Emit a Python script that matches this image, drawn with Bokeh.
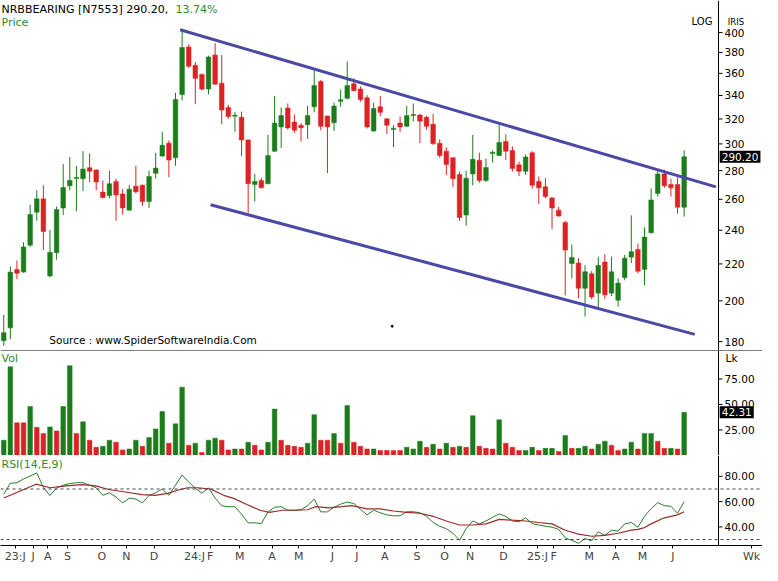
from bokeh.plotting import figure
from bokeh.layouts import column
from bokeh.models import Range1d, FixedTicker, Span, Label, ColumnDataSource
from bokeh.embed import file_html
from bokeh.resources import INLINE

# ---------------- data (weekly candles) ----------------
open_ = [180.4, 186.5, 216.9, 215.4, 230.9, 251.5, 260.3, 213.3, 226.5, 254.2,
         269.2, 274.4, 274.2, 282.1, 280.4, 264.9, 262.5, 272.3, 263.6, 252.8,
         269.0, 269.6, 258.5, 278.1, 290.7, 300.6, 289.5, 340.9, 385.5, 367.6,
         359.0, 345.7, 377.5, 351.0, 329.6, 322.3, 321.4, 303.1, 270.1, 273.0,
         270.7, 294.4, 313.5, 329.1, 317.4, 314.8, 315.3, 330.2, 352.5, 322.5,
         316.9, 335.0, 337.5, 350.4, 345.7, 338.0, 310.1, 330.2, 320.1, 311.4,
         316.6, 314.0, 322.8, 323.3, 321.4, 315.6, 300.6, 294.4, 289.5, 277.2,
         249.6, 277.6, 287.6, 273.0, 292.7, 291.2, 301.9, 294.9, 284.2, 279.5,
         293.2, 272.3, 268.5, 260.9, 252.8, 244.9, 220.2, 220.5, 206.6, 214.5,
         204.0, 221.1, 204.0, 200.3, 212.4, 223.9, 228.4, 216.9, 238.4, 264.0,
         277.6, 270.1, 270.1, 254.7]
high = [192.9, 218.7, 222.0, 232.8, 256.4, 266.2, 269.6, 240.2, 255.3, 284.7,
        290.0, 283.5, 294.4, 292.7, 281.1, 273.0, 280.0, 274.2, 266.9, 269.6,
        283.5, 270.1, 280.0, 293.2, 309.6, 302.6, 342.3, 403.0, 388.1, 370.6,
        359.9, 376.9, 389.1, 377.5, 331.9, 325.5, 326.1, 303.5, 277.6, 274.8,
        307.0, 339.5, 329.6, 333.0, 323.6, 316.6, 331.0, 363.0, 354.0, 322.6,
        333.8, 345.2, 371.2, 355.4, 348.1, 340.3, 333.8, 339.5, 320.5, 314.8,
        322.0, 331.0, 333.0, 324.2, 322.5, 324.2, 303.6, 297.4, 289.7, 279.3,
        280.0, 307.0, 293.2, 288.8, 294.9, 315.6, 307.5, 298.1, 286.6, 291.9,
        294.4, 275.8, 274.6, 261.6, 254.9, 245.9, 231.3, 223.3, 219.2, 215.9,
        224.2, 225.7, 224.2, 212.0, 225.2, 249.4, 231.9, 241.8, 267.4, 280.0,
        280.7, 274.2, 275.3, 295.1]
low = [178.1, 181.1, 211.5, 215.0, 229.9, 245.9, 228.0, 212.5, 222.4, 249.6,
       266.2, 252.1, 265.6, 271.9, 266.2, 260.7, 260.7, 245.9, 250.0, 252.5,
       264.0, 255.7, 254.2, 274.2, 290.2, 275.3, 283.5, 335.8, 365.1, 332.4,
       344.3, 340.9, 349.5, 315.6, 320.1, 309.6, 290.7, 251.1, 258.5, 267.4,
       270.2, 293.9, 296.9, 311.4, 308.8, 301.9, 303.9, 325.5, 310.8, 278.3,
       310.3, 330.2, 336.6, 343.7, 334.6, 312.2, 309.6, 322.3, 307.7, 297.6,
       309.6, 313.5, 318.0, 300.6, 311.4, 299.4, 289.5, 276.9, 268.5, 245.9,
       242.8, 269.6, 271.4, 271.9, 285.9, 290.7, 287.8, 279.3, 276.0, 276.9,
       267.4, 256.8, 260.7, 240.8, 248.6, 202.8, 212.0, 201.4, 192.1, 200.8,
       196.5, 200.8, 202.5, 197.0, 210.9, 220.5, 214.7, 208.3, 238.2, 261.8,
       267.8, 261.8, 250.5, 248.6]
close = [184.2, 215.4, 214.7, 229.9, 250.0, 260.3, 239.2, 226.7, 253.2, 268.1,
         273.0, 275.1, 281.1, 279.5, 271.9, 261.2, 270.7, 262.9, 254.2, 266.9,
         265.1, 258.5, 275.8, 281.9, 298.9, 287.8, 336.6, 384.9, 366.6, 355.4,
         345.7, 375.6, 350.1, 327.4, 322.0, 323.1, 303.1, 270.7, 272.3, 267.8,
         291.2, 316.6, 322.8, 312.7, 310.8, 312.9, 322.8, 348.9, 314.0, 313.5,
         330.8, 336.2, 348.9, 344.3, 336.6, 313.5, 328.8, 325.5, 314.8, 312.4,
         313.5, 322.8, 323.6, 318.2, 314.0, 300.1, 291.2, 284.5, 274.2, 248.0,
         274.6, 288.3, 273.0, 282.3, 293.6, 301.1, 294.4, 281.6, 279.5, 290.0,
         269.6, 267.8, 261.8, 254.2, 249.0, 228.0, 223.7, 206.6, 215.6, 202.0,
         219.2, 203.1, 215.6, 209.4, 223.3, 227.1, 215.9, 235.8, 259.6, 277.6,
         269.2, 267.8, 254.7, 290.2]

volume = [15, 87, 32, 32, 48, 27.6, 21.5, 28, 24, 48,
          88, 21.5, 33, 15, 8, 9, 15, 13, 5.5, 6.4,
          15, 9, 17.6, 26, 43, 12, 31, 67, 10, 12,
          3, 15, 17, 15, 5.5, 6.4, 6.4, 13, 10, 5.5,
          13, 45.5, 15, 10, 9, 8, 12, 40, 15, 15,
          21.5, 12, 49, 13, 9, 6.4, 6.4, 5, 5, 5,
          5, 8, 6.4, 14, 8, 11, 6.4, 12, 8, 9,
          8, 39, 9, 7, 6.4, 35, 12, 8, 5, 5,
          8, 5, 7, 7, 4, 19.5, 7, 7, 9, 6.4,
          11, 14, 10, 5, 6.4, 13, 6.4, 21.5, 21.5, 14,
          7, 7, 6.4, 42.31]
volume_dir = list("GGRRGRRGRG" "GRGRRGGRRG" "GRGGGRGGRG" "RGGRRGRGRR"
                  "GGRRRRGGRR" "GRGRRRGRRR" "RGGGRGRGRG" "RGRRRGRRRG"
                  "GRGGRGRGGR" "GGRRGGRGGR" "RGRG")

rsi = [65.8, 74.5, 75.0, 77.9, 80.3, 82.7, 71.3, 64.8, 70.8, 73.0,
       74.3, 75.0, 75.0, 73.0, 71.0, 65.0, 67.0, 63.6, 59.0, 62.8,
       62.0, 59.0, 65.0, 67.0, 70.0, 65.0, 73.0, 81.0, 75.5, 70.6,
       66.7, 70.8, 62.8, 56.8, 56.0, 56.0, 50.0, 43.2, 43.2, 42.7,
       51.7, 55.6, 56.0, 53.2, 53.2, 53.6, 56.8, 62.0, 51.9, 51.9,
       55.6, 58.0, 59.7, 58.5, 54.0, 49.5, 53.2, 51.2, 49.5, 48.8,
       48.8, 52.0, 52.0, 51.2, 48.4, 43.5, 40.5, 38.6, 35.0, 29.4,
       38.6, 44.7, 42.4, 44.7, 47.6, 50.3, 48.4, 44.7, 44.0, 47.2,
       42.7, 41.5, 40.5, 39.8, 38.1, 31.3, 29.4, 27.0, 30.8, 29.0,
       36.2, 33.3, 37.4, 36.7, 42.4, 43.5, 39.8, 48.4, 54.4, 59.2,
       56.8, 56.3, 50.8, 59.9]
signal_x = [0, 4.9, 7, 9.4, 11.9, 13.9, 15.9, 18.4, 20.9, 22.9,
            24.8, 26.3, 27.8, 29.3, 31.3, 33.3, 34.8, 36.8, 38.8, 40.2,
            42.2, 44.2, 46, 47.2, 49.2, 51.2, 52.7, 55, 57, 59,
            61, 63, 65, 67, 69, 71, 73, 75, 77, 79,
            81, 83, 85, 87, 89, 91, 93, 95, 96, 97,
            98, 100, 102, 103]
signal_v = [62.9, 73.8, 71.0, 72.5, 73.5, 72.5, 69.6, 67.6, 65.5, 65.0,
            66.5, 69.0, 71.0, 71.0, 70.0, 65.0, 62.6, 57.7, 53.2, 51.5,
            53.2, 53.2, 53.6, 56.0, 55.0, 56.0, 56.8, 54.3, 54.3, 52.6,
            51.5, 50.8, 48.4, 44.7, 41.5, 41.5, 42.4, 46.0, 45.3, 44.7,
            43.5, 42.4, 37.4, 34.3, 32.6, 33.3, 35.0, 37.4, 38.1, 39.5,
            42.4, 47.2, 49.5, 52.0]

upper_x = [26.7, 107.8]
upper_y = [403.0, 268.5]
lower_x = [31.3, 104.6]
lower_y = [256.4, 183.4]

price_ticks = [180, 200, 220, 240, 260, 280, 300, 320, 340, 360, 380, 400]
vol_ticks = [25, 50, 75]
rsi_ticks = [40, 60, 80]
month_pos = [1.74, 4.43, 6.66, 9.64, 14.86, 18.58, 22.76, 28.87, 31.25, 35.72,
             40.63, 44.66, 49.73, 53.46, 57.68, 62.55, 66.72, 70.6, 75.66, 80.8,
             83.26, 88.63, 92.65, 96.68, 101.3]
month_lbl = ["23:J", "J", "A", "S", "O", "N", "D", "24:J", "F", "M",
             "A", "M", "J", "J", "A", "S", "O", "N", "D", "25:J",
             "F", "M", "A", "M", "J"]

# ---------------- layout / styling ----------------
GREEN = "#1c7c1c"
RED = "#dc2222"
TXTGREEN = "#2f8a2f"
CHAN = "#4a4aa6"
FONT = "DejaVu Sans"
W = 762
X0, XAX = -0.49, 108.2          # left edge and price-axis position (candle index)
AXIS_PX = 718                   # pixel position of the price axis inside the canvas
PX = AXIS_PX / (XAX - X0)       # pixels per candle
X1 = XAX + (W - AXIS_PX) / PX   # right edge of the canvas
TICK = 4 / PX
LABX = XAX + 6 / PX

idx = list(range(len(close)))
xr = Range1d(X0, X1)


def base(h, yr, **kw):
    p = figure(width=W, height=h, x_range=xr, y_range=yr, toolbar_location=None,
               output_backend="svg", min_border=0, **kw)
    p.outline_line_color = None
    p.xgrid.visible = False
    p.ygrid.visible = False
    p.yaxis.visible = False
    p.background_fill_color = "white"
    p.border_fill_color = "white"
    p.add_layout(Span(location=XAX, dimension="height", line_color="black", line_width=1))
    return p


def right_axis(p, ticks, fmt):
    p.segment(x0=[XAX] * len(ticks), y0=ticks, x1=[XAX + TICK] * len(ticks), y1=ticks,
              line_color="black", line_width=1)
    p.text(x=[LABX] * len(ticks), y=ticks, text=[fmt % t for t in ticks],
           text_font=FONT_V, text_font_size="10.5px", text_baseline="middle",
           text_align="left", text_color="black")


def lab(p, x, y, text, color="black", size="11px", align="left", **kw):
    p.add_layout(Label(x=x, y=y, text=text, text_color=color, text_font=FONT,
                       text_font_size=size, text_align=align,
                       text_baseline="middle", **kw))


from bokeh.core.properties import value
FONT_V = value(FONT)

# ---------------- price panel ----------------
price = base(350, Range1d(175.9, 434.6), y_axis_type="log")
price.xaxis.visible = False
right_axis(price, price_ticks, "%d")

colors = [GREEN if c >= o else RED for o, c in zip(open_, close)]
src = ColumnDataSource(dict(x=idx, o=open_, h=high, l=low, c=close,
                            top=[max(o, c) for o, c in zip(open_, close)],
                            bot=[min(o, c) for o, c in zip(open_, close)],
                            col=colors))
price.segment(x0="x", y0="l", x1="x", y1="h", color="col", line_width=1, source=src)
price.vbar(x="x", width=0.7, top="top", bottom="bot", fill_color="col",
           line_color="col", line_width=0.5, source=src)
price.line(upper_x, upper_y, line_color=CHAN, line_width=3)
price.line(lower_x, lower_y, line_color=CHAN, line_width=3)
price.scatter([58.8], [187.3], size=2, color="black")

lab(price, -0.34, 424.9, "NRBBEARING [N7553]  290.20,")
lab(price, 26.0, 424.9, "13.74%", color=TXTGREEN)
lab(price, -0.34, 410.2, "Price", color=TXTGREEN)
lab(price, 105.7, 411.2, "LOG", size="10px", align="center")
lab(price, 110.85, 411.2, "IRIS", size="8.5px", align="center")
lab(price, 6.9, 180.8, "Source : www.SpiderSoftwareIndia.Com", size="10.5px")
lab(price, XAX + 1.2 / PX, close[-1], "%.2f" % close[-1], color="white", size="10.5px",
    background_fill_color="black", padding=2)

# ---------------- volume panel ----------------
vol = base(105, Range1d(0, 102.9))
vol.xaxis.visible = False
right_axis(vol, vol_ticks, "%.2f")
vcol = [GREEN if d == "G" else RED for d in volume_dir]
vsrc = ColumnDataSource(dict(x=idx, v=volume, col=vcol))
vol.vbar(x="x", width=0.7, top="v", bottom=0, fill_color="col", line_color="col",
         line_width=0.5, source=vsrc)
vol.add_layout(Span(location=102.9, dimension="width", line_color="black", line_width=1))
vol.add_layout(Span(location=0, dimension="width", line_color="black", line_width=1))
lab(vol, -0.34, 95.2, "Vol", color=TXTGREEN)
lab(vol, 110.17, 95.2, "Lk", size="10.5px", align="center")
lab(vol, XAX + 1.2 / PX, volume[-1], "%.2f" % volume[-1], color="white", size="10.5px",
    background_fill_color="black", padding=2)

# ---------------- RSI panel ----------------
rp = base(110, Range1d(25.3, 96.5))
right_axis(rp, rsi_ticks, "%.2f")
xa = rp.xaxis[0]
xa.ticker = FixedTicker(ticks=month_pos + [113.2])
overrides = {p_: l_ for p_, l_ in zip(month_pos, month_lbl)}
overrides[113.2] = "Wk"
xa.major_label_overrides = overrides
xa.axis_line_color = "black"
xa.major_tick_out = 3
xa.major_tick_in = 0
xa.minor_tick_line_color = None
xa.major_label_standoff = 1
xa.major_label_text_font = FONT
xa.major_label_text_font_size = "11px"
rp.add_layout(Span(location=70, dimension="width", line_color="#444444",
                   line_width=1, line_dash="3 3"))
rp.add_layout(Span(location=30, dimension="width", line_color="#444444",
                   line_width=1, line_dash="3 3"))
rp.line(idx, rsi, line_color="#2a7d2a", line_width=1)
rp.line(signal_x, signal_v, line_color="#9b2b2b", line_width=1.2)
lab(rp, -0.34, 89.3, "RSI(14,E,9)", color=TXTGREEN)

layout = column(price, vol, rp, spacing=0)
open("out.html", "w").write(file_html(layout, INLINE))
